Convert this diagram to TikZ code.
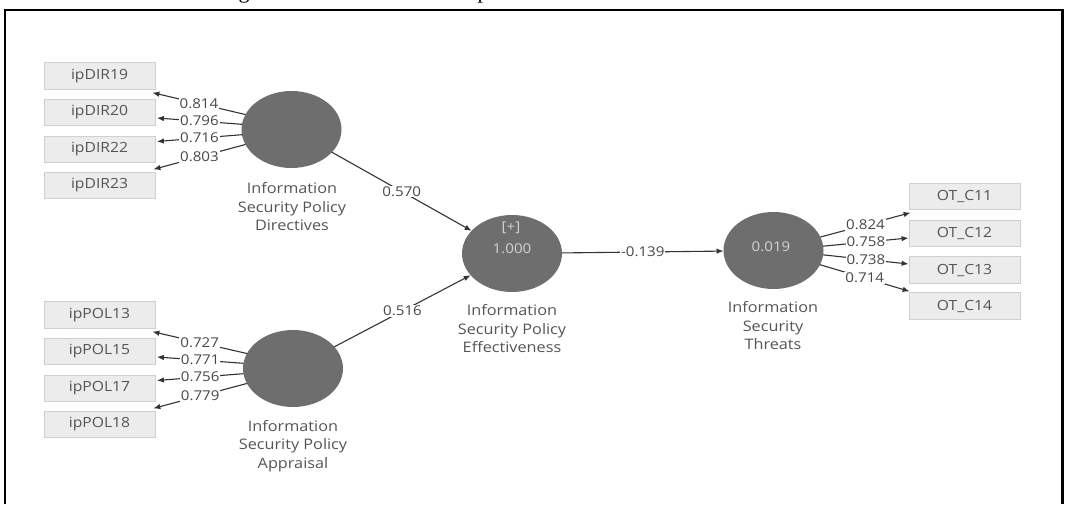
\documentclass[tikz,border=0pt]{standalone}
\usepackage{fontspec}
\setmainfont[FakeStretch=1.12]{Open Sans}
\newfontfamily\capfont{Liberation Serif}
\usetikzlibrary{shapes.geometric,arrows.meta,calc}
\definecolor{lvgray}{HTML}{6E6E6E}
\definecolor{boxfill}{HTML}{ECECEC}
\definecolor{boxborder}{HTML}{D0D0D0}
\definecolor{txtgray}{HTML}{555555}
\definecolor{numgray}{HTML}{484848}
\definecolor{linegray}{HTML}{333333}
\definecolor{intxt}{HTML}{D2D2D2}
\tikzset{
  ind/.style={draw=boxborder, line width=0.8, fill=boxfill, minimum width=111, minimum height=26.5, inner sep=0,
    font=\fontsize{14}{16}\selectfont, text=txtgray},
  lv/.style={ellipse, fill=lvgray, minimum width=100, minimum height=77, inner sep=0, outer sep=0},
  lab/.style={align=center, font=\fontsize{14.5}{18.5}\selectfont, text=txtgray, inner sep=0},
  ld/.style={fill=white, inner sep=1, font=\fontsize{13.5}{15}\selectfont, text=numgray},
  con/.style={draw=linegray, line width=1.1, -{Latex[length=7,width=5.5]}},
  inval/.style={font=\fontsize{13.5}{15}\selectfont, text=intxt, inner sep=0},
  capt/.style={font=\capfont\fontsize{22}{24}\selectfont, inner sep=0}
}
\begin{document}
\begin{tikzpicture}[x=1pt,y=-1pt]
\useasboundingbox (0,0) rectangle (1068,504);
\begin{scope}
  \clip (0,0) rectangle (1068,504);
  \node[capt, anchor=base] (capg) at (244,-1.5) {g};
  \node[capt, anchor=base] (capp) at (483,-1.5) {p};
\end{scope}
\draw[line width=2.5] (5,504) -- (5,10) -- (1062.5,10) -- (1062.5,504);

% indicator boxes
\node[ind] (d19) at (99.5,76) {ipDIR19};
\node[ind] (d20) at (99.5,112.5) {ipDIR20};
\node[ind] (d22) at (99.5,149.5) {ipDIR22};
\node[ind] (d23) at (99.5,185.5) {ipDIR23};
\node[ind] (p13) at (99.5,315) {ipPOL13};
\node[ind] (p15) at (99.5,351.5) {ipPOL15};
\node[ind] (p17) at (99.5,388.5) {ipPOL17};
\node[ind] (p18) at (99.5,424.5) {ipPOL18};
\node[ind] (c11) at (964.5,196.5) {OT\_C11};
\node[ind] (c12) at (964.5,233.5) {OT\_C12};
\node[ind] (c13) at (964.5,270) {OT\_C13};
\node[ind] (c14) at (964.5,306) {OT\_C14};

% latent variables
\node[lv] (dir) at (291.5,129.5) {};
\node[lv] (pol) at (293,368.5) {};
\node[lv] (eff) at (512,253.5) {};
\node[lv] (thr) at (773.5,250.5) {};
\node[inval] (effplus) at (511,228) {[+]};
\node[inval] (effr) at (512,249) {1.000};
\node[inval] (thrr) at (771,247) {0.019};

% labels
\node[lab] (dirlab) at (292,207) {Information\\Security Policy\\Directives};
\node[lab] (pollab) at (293,446) {Information\\Security Policy\\Appraisal};
\node[lab] (efflab) at (512,329) {Information\\Security Policy\\Effectiveness};
\node[lab] (thrlab) at (773,326) {Information\\Security\\Threats};

% outer loadings DIR
\draw[con] (dir.162) -- node[ld] {0.814} ($(d19.south east)+(-3,3)$);
\draw[con] (dir.174) -- node[ld] {0.796} ($(d20.east)+(1.5,5.5)$);
\draw[con] (dir.186) -- node[ld] {0.716} ($(d22.east)+(1.5,-8)$);
\draw[con] (dir.198) -- node[ld] {0.803} ($(d23.north east)+(-2,-2.5)$);
% outer loadings POL
\draw[con] (pol.162) -- node[ld] {0.727} ($(p13.south east)+(-3,3)$);
\draw[con] (pol.174) -- node[ld] {0.771} ($(p15.east)+(1.5,5.5)$);
\draw[con] (pol.186) -- node[ld] {0.756} ($(p17.east)+(1.5,-8)$);
\draw[con] (pol.198) -- node[ld] {0.779} ($(p18.north east)+(-2,-2.5)$);
% outer loadings THR
\draw[con] (thr.16) -- node[ld] {0.824} ($(c11.south west)+(2,2.5)$);
\draw[con] (thr.5) -- node[ld] {0.758} ($(c12.west)+(0,4.5)$);
\draw[con] (thr.-5) -- node[ld] {0.738} ($(c13.west)+(0,-6)$);
\draw[con] (thr.-17) -- node[ld] {0.714} ($(c14.north west)+(1,-1)$);

% structural paths
\draw[con] (dir) -- node[ld] {0.570} (eff);
\draw[con] (pol) -- node[ld] {0.516} (eff);
\draw[con] (eff) -- node[ld] {-0.139} (thr);
\end{tikzpicture}
\end{document}
